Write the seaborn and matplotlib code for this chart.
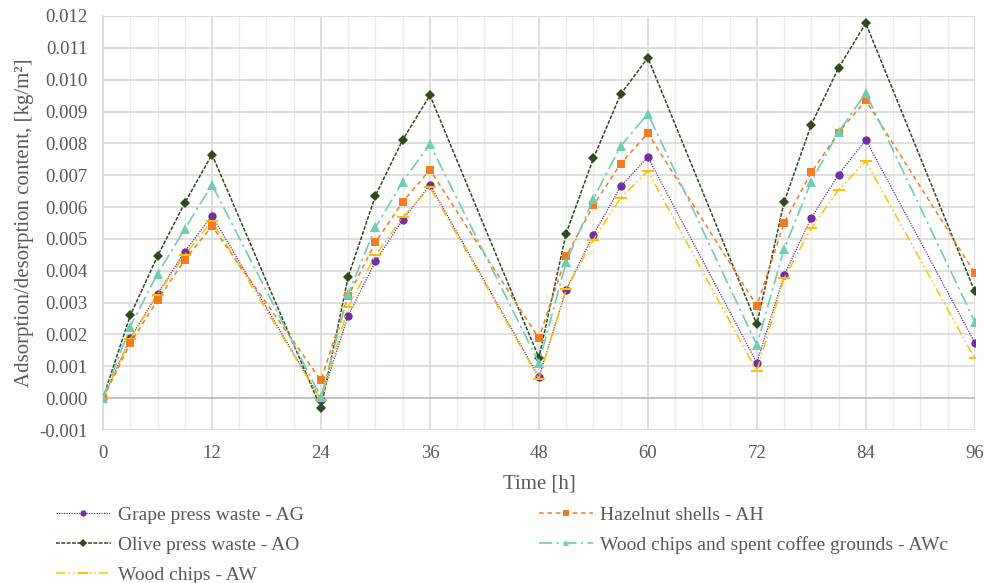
import numpy as np
import pandas as pd
import matplotlib
matplotlib.use("Agg")
import matplotlib.pyplot as plt
import seaborn as sns
from matplotlib.ticker import MultipleLocator, FormatStrFormatter

time_h = [0, 3, 6, 9, 12, 24, 27, 30, 33, 36, 48, 51, 54, 57, 60, 72, 75, 78, 81, 84, 96]

grape_ag = [0.0, 0.00188, 0.00328, 0.0046, 0.00573, -0.00005, 0.00259, 0.0043, 0.0056, 0.0067, 0.00066,
            0.0034, 0.00513, 0.00665, 0.00757, 0.00111, 0.00386, 0.00566, 0.00702, 0.00811, 0.00174]
hazelnut_ah = [0.0, 0.00172, 0.00308, 0.00434, 0.0054, 0.00056, 0.0032, 0.00489, 0.00616, 0.00717, 0.00188,
               0.00445, 0.00605, 0.00736, 0.00832, 0.0029, 0.0055, 0.00709, 0.00834, 0.00935, 0.00393]
olive_ao = [0.0, 0.0026, 0.00446, 0.00613, 0.00765, -0.00031, 0.00381, 0.00636, 0.00811, 0.00951, 0.00127,
            0.00517, 0.00753, 0.00954, 0.01069, 0.00232, 0.00615, 0.00859, 0.01037, 0.01177, 0.00335]
woodcoffee_awc = [0.0, 0.00225, 0.0039, 0.00531, 0.0067, 0.00003, 0.00327, 0.00536, 0.0068, 0.00797, 0.00111,
                  0.00426, 0.00626, 0.00791, 0.00893, 0.00167, 0.00468, 0.0068, 0.00836, 0.00958, 0.0024]
wood_aw = [0.0, 0.00185, 0.00325, 0.0045, 0.00556, -0.00005, 0.00286, 0.00449, 0.00568, 0.00662, 0.00061,
           0.00342, 0.00497, 0.00629, 0.00713, 0.00085, 0.00376, 0.00534, 0.00654, 0.00744, 0.00125]

series = [
    ("Grape press waste - AG", grape_ag, "#7030A0", "o", (0, (1, 1)), 0.9, 6),
    ("Olive press waste - AO", olive_ao, "#2E4A1E", "D", (0, (2.5, 1)), 1.1, 5),
    ("Wood chips - AW", wood_aw, "#FFC000", "_", (0, (6, 2, 1, 2, 1, 2)), 1.1, 9),
    ("Hazelnut shells - AH", hazelnut_ah, "#F47B20", "s", (0, (3, 2.5)), 1.1, 6),
    ("Wood chips and spent coffee grounds - AWc", woodcoffee_awc, "#6FCDB1", "^", (0, (8, 2.5, 1.5, 2.5)), 1.2, 6.5),
]

df = pd.DataFrame({"t": time_h})
for name, vals, *_ in series:
    df[name] = vals

sns.set_style("white")
plt.rcParams["font.family"] = ["Liberation Serif", "DejaVu Serif"]

fig = plt.figure(figsize=(9.85, 5.83), dpi=100)
ax = fig.add_axes([0.1046, 0.2624, 0.885, 0.7102])

handles = []
for name, vals, color, marker, ls, lw, ms in series:
    sns.lineplot(data=df, x="t", y=name, ax=ax, color=color, marker=marker,
                 linestyle=ls, linewidth=lw, markersize=ms, markeredgewidth=1.5 if marker == "_" else 0,
                 markeredgecolor=color, label=name, legend=False, zorder=3)
    handles.append(ax.lines[-1])

ax.set_xlim(0, 96)
ax.set_ylim(-0.001, 0.012)
ax.xaxis.set_major_locator(MultipleLocator(12))
ax.xaxis.set_minor_locator(MultipleLocator(3))
ax.yaxis.set_major_locator(MultipleLocator(0.001))
ax.yaxis.set_major_formatter(FormatStrFormatter("%.3f"))
ax.grid(which="major", axis="both", color="#D9D9D9", linewidth=1.2, zorder=0)
ax.grid(which="minor", axis="x", color="#EBEBEB", linewidth=1.0, zorder=0)
ax.axhline(0, color="#BFBFBF", linewidth=1.3, zorder=1)
for s in ["top", "right", "bottom"]:
    ax.spines[s].set_visible(False)
ax.spines["left"].set_color("#D9D9D9")
ax.spines["left"].set_linewidth(1.2)
ax.tick_params(axis="both", which="both", length=0, labelsize=13.5, colors="#595959")
ax.tick_params(axis="y", pad=11)
ax.tick_params(axis="x", pad=11)
ax.set_xlabel("Time [h]", fontsize=15, color="#595959", labelpad=9)
ax.set_ylabel("Adsorption/desorption content, [kg/m²]", fontsize=15, color="#595959", labelpad=4)

fig.legend(handles=handles, labels=[s[0] for s in series], loc="upper left",
           bbox_to_anchor=(0.057, 0.131), ncol=2, frameon=False, fontsize=14,
           labelcolor="#595959", handlelength=2.8, handletextpad=0.36, markerscale=0.75,
           columnspacing=12.1, labelspacing=0.62, borderaxespad=0, borderpad=0)

fig.savefig("out.png", dpi=100)
